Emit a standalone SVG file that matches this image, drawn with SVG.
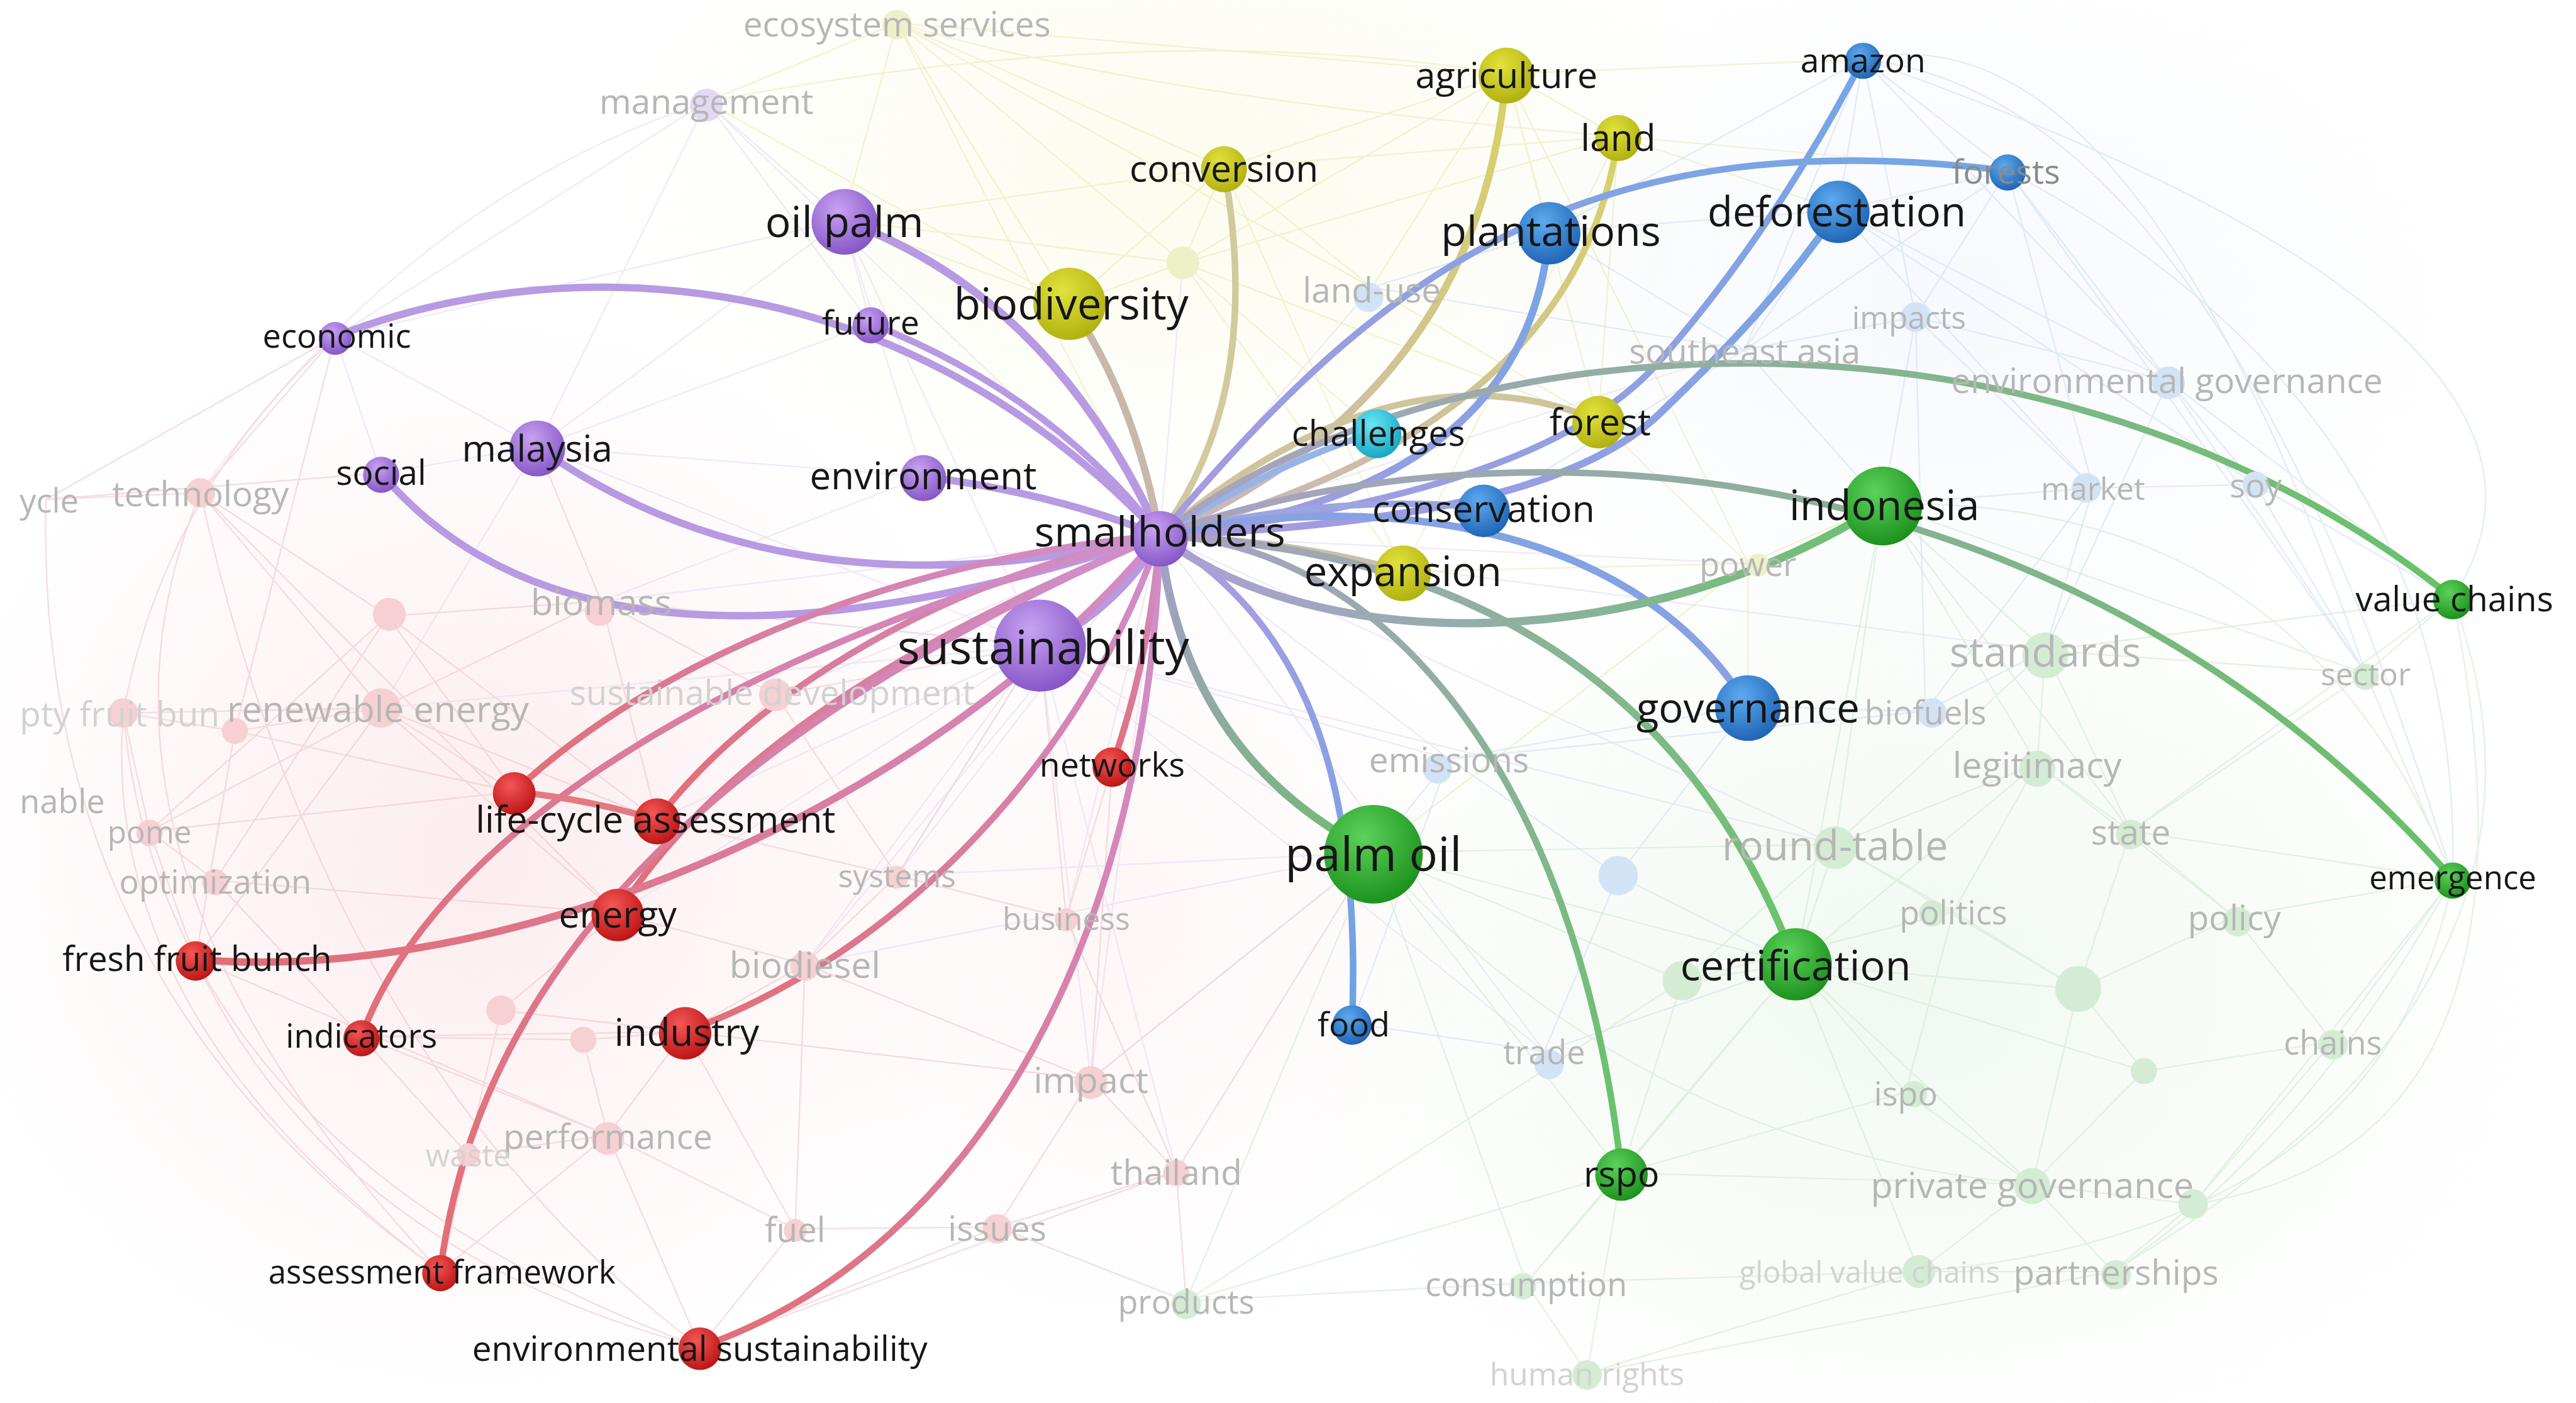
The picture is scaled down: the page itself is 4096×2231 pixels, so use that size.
<svg xmlns="http://www.w3.org/2000/svg" width="4096" height="2231" viewBox="0 0 4096 2231">
<style>
text{font-family:"Open Sans","Noto Sans","DejaVu Sans",sans-serif;text-anchor:middle;dominant-baseline:central}
.lb{fill:#161616}
.fd{fill:#b6b6b6}
.fd2{fill:#d2d2d2}
.fr{fill:#f6d0d3}.fy{fill:#eef0c8}.fb{fill:#d3e3f6}.fg{fill:#d4ecd4}.fp{fill:#e4d9f4}
.mesh{fill:none;stroke-width:0.9;opacity:0.6}
.e{fill:none;stroke-linecap:round}
.pu{stroke:#b79ae2}
.re{stroke:url(#gRed)}
</style>
<defs>
<radialGradient id="gP" cx="0.4" cy="0.32" r="0.7"><stop offset="0" stop-color="#c8a2f2"/><stop offset="1" stop-color="#8555c6"/></radialGradient>
<radialGradient id="gY" cx="0.4" cy="0.32" r="0.7"><stop offset="0" stop-color="#e2e23c"/><stop offset="1" stop-color="#b0b012"/></radialGradient>
<radialGradient id="gB" cx="0.4" cy="0.32" r="0.7"><stop offset="0" stop-color="#5eaaf0"/><stop offset="1" stop-color="#1e64b6"/></radialGradient>
<radialGradient id="gG" cx="0.4" cy="0.32" r="0.7"><stop offset="0" stop-color="#5cd25c"/><stop offset="1" stop-color="#1c901c"/></radialGradient>
<radialGradient id="gR" cx="0.4" cy="0.32" r="0.7"><stop offset="0" stop-color="#f45656"/><stop offset="1" stop-color="#bc1414"/></radialGradient>
<radialGradient id="gC" cx="0.4" cy="0.32" r="0.7"><stop offset="0" stop-color="#6ae6f6"/><stop offset="1" stop-color="#14a6c2"/></radialGradient>
<radialGradient id="tPink"><stop offset="0" stop-color="#fbe8ea" stop-opacity="0.8"/><stop offset="1" stop-color="#fbe8ea" stop-opacity="0"/></radialGradient>
<radialGradient id="tYel"><stop offset="0" stop-color="#fafae6" stop-opacity="0.7"/><stop offset="1" stop-color="#fafae6" stop-opacity="0"/></radialGradient>
<radialGradient id="tBlu"><stop offset="0" stop-color="#f0f5fc" stop-opacity="0.6"/><stop offset="1" stop-color="#f0f5fc" stop-opacity="0"/></radialGradient>
<radialGradient id="tGrn"><stop offset="0" stop-color="#eef7ee" stop-opacity="0.85"/><stop offset="1" stop-color="#eef7ee" stop-opacity="0"/></radialGradient>
<linearGradient id="gRed" x1="0" y1="1" x2="1" y2="0"><stop offset="0" stop-color="#e26e76"/><stop offset="1" stop-color="#cf8fcc"/></linearGradient>
<linearGradient id="gBlu" x1="0" y1="1" x2="1" y2="0"><stop offset="0" stop-color="#aa9ae0"/><stop offset="1" stop-color="#74a6e4"/></linearGradient>
<linearGradient id="gYel" x1="0" y1="1" x2="1" y2="0"><stop offset="0" stop-color="#c8b4c4"/><stop offset="1" stop-color="#d8d266"/></linearGradient>
<linearGradient id="gVC" gradientUnits="userSpaceOnUse" x1="706" y1="326" x2="1493" y2="364"><stop offset="0" stop-color="#aaa2c4"/><stop offset="1" stop-color="#68c268"/></linearGradient>
<linearGradient id="gEm" gradientUnits="userSpaceOnUse" x1="706" y1="326" x2="1493" y2="535"><stop offset="0" stop-color="#aaa2c4"/><stop offset="1" stop-color="#68c068"/></linearGradient>
<linearGradient id="gInd" gradientUnits="userSpaceOnUse" x1="706" y1="326" x2="1146" y2="307"><stop offset="0" stop-color="#ae9fd6"/><stop offset="1" stop-color="#6cc26c"/></linearGradient>
<linearGradient id="gCert" gradientUnits="userSpaceOnUse" x1="706" y1="326" x2="1093" y2="587"><stop offset="0" stop-color="#aaa2c4"/><stop offset="1" stop-color="#6ac46a"/></linearGradient>
<linearGradient id="gRspo" gradientUnits="userSpaceOnUse" x1="706" y1="326" x2="987" y2="714"><stop offset="0" stop-color="#aaa2c4"/><stop offset="1" stop-color="#66c466"/></linearGradient>
<linearGradient id="gPO" gradientUnits="userSpaceOnUse" x1="706" y1="326" x2="836" y2="519"><stop offset="0" stop-color="#a89ecc"/><stop offset="1" stop-color="#70ba70"/></linearGradient>
<linearGradient id="gFood" gradientUnits="userSpaceOnUse" x1="706" y1="326" x2="823" y2="623"><stop offset="0" stop-color="#b09ce2"/><stop offset="1" stop-color="#68a4e2"/></linearGradient>
</defs>
<rect x="0" y="0" width="4096" height="2231" fill="#ffffff"/>
<g transform="scale(2.61224)">
<g id="tints">
<ellipse cx="290" cy="520" rx="330" ry="330" fill="url(#tPink)"/>
<ellipse cx="720" cy="110" rx="360" ry="200" fill="url(#tYel)"/>
<ellipse cx="1180" cy="190" rx="320" ry="220" fill="url(#tBlu)"/>
<ellipse cx="1160" cy="600" rx="400" ry="300" fill="url(#tGrn)"/>
<ellipse cx="680" cy="560" rx="220" ry="250" fill="url(#tPink)" opacity="0.5"/>
</g>
<g id="connectors">
<path class="mesh" stroke="#f2c6ca" d="M122,300 L232,431 M122,300 L376,556 M122,300 L28,304 M122,300 L236,375 M122,300 L204,205 M232,431 L75,434 M232,431 L143,445 M232,431 L400,499 M232,431 L313,482 M232,431 L366,366 M232,431 L91,506 M232,431 L119,584 M232,431 L376,556 M236,375 L91,506 M236,375 L400,499 M236,375 L131,536 M91,506 L131,536 M91,506 L119,584 M91,506 L313,482 M131,536 L376,556 M131,536 L220,631 M119,584 L370,691 M220,631 L370,691 M220,631 L417,628 M370,691 L417,628 M370,691 L268,774 M370,691 L484,748 M370,691 L426,820 M484,748 L426,820 M484,748 L607,747 M484,748 L417,628 M607,747 L664,657 M607,747 L716,713 M607,747 L426,820 M664,657 L716,713 M664,657 L490,587 M664,657 L836,519 M664,657 L417,628 M490,587 L417,628 M490,587 L546,533 M490,587 L376,556 M546,533 L649,559 M546,533 L400,499 M649,559 L677,466 M649,559 L716,713 M472,423 L366,366 M472,423 L633,393 M472,423 L400,499 M366,366 L327,272 M366,366 L633,393 M305,615 L376,556 M305,615 L268,774 M355,633 L417,628 M355,633 L220,631 M28,304 Q20,600 268,774 M75,434 Q100,700 426,820 M122,300 Q30,520 268,774 M143,445 L313,482 M75,434 L143,445 M75,434 L91,506 M236,375 L366,366 M236,375 L313,482 M143,445 L119,584 M366,366 L400,499 M472,423 L546,533 M305,615 L417,628 M355,633 L370,691 M285,703 L370,691 M285,703 L268,774 M285,703 L220,631 M716,713 L836,519 M716,713 L722,792 M607,747 L722,792 M426,820 L716,713 M546,533 L633,393 M649,559 L633,393 M664,657 L677,466 M484,748 L490,587 M143,445 L204,205 M28,304 L204,205 M28,304 L232,288 M204,205 Q100,300 75,434 M122,300 Q200,650 426,820 M119,584 Q200,760 426,820 M75,434 Q60,620 268,774"/>
<path class="mesh" stroke="#ebeabb" d="M546,14 L430,62 M546,14 L651,185 M546,14 L745,102 M546,14 L917,45 M546,14 L720,160 M546,14 L513,134 M720,160 L651,185 M720,160 L745,102 M720,160 L917,45 M720,160 L985,83 M745,102 L917,45 M745,102 L985,83 M745,102 L651,185 M917,45 L985,83 M917,45 L943,141 M917,45 L835,175 M917,45 L1064,343 M985,83 L973,256 M985,83 L1119,128 M1064,343 L854,348 M1064,343 L973,256 M1064,343 L1146,307 M651,185 L430,62 M651,185 L513,134 M546,14 Q700,60 985,83 M430,62 Q700,10 917,45 M720,160 L854,348 M720,160 L838,263 M745,102 L835,175 M546,14 L706,326 M917,45 L973,256 M985,83 L854,348 M513,134 L720,160 M745,102 L513,134 M917,45 L1134,36 M985,83 L1222,104 M835,175 L973,256 M1064,343 L1064,430 M1064,343 L836,519 M720,160 L973,256 M546,14 L835,175 M745,102 L854,348"/>
<path class="mesh" stroke="#d0e0f4" d="M1134,36 L1222,104 M1134,36 L1119,128 M1134,36 L943,141 M1134,36 L1320,232 M1134,36 L1166,193 M1134,36 L1062,213 M1222,104 L1119,128 M1222,104 L1320,232 M1222,104 L1274,297 M1222,104 L1166,193 M1119,128 L1320,232 M1119,128 L1274,297 M1119,128 L1062,213 M1119,128 L1373,295 M1166,193 L1320,232 M1166,193 L1274,297 M1166,193 L1172,433 M1320,232 L1373,295 M1320,232 L1440,410 M1320,232 L1493,364 M1274,297 L1172,433 M1274,297 L1245,396 M1274,297 L1373,295 M1172,433 L1064,430 M1172,433 L882,462 M1172,433 L1245,396 M882,462 L985,533 M882,462 L836,519 M882,462 L1064,430 M940,640 L985,533 M940,640 L823,623 M940,640 L1093,587 M835,175 L943,141 M835,175 L1062,213 M1222,104 Q1500,250 1493,535 M1134,36 Q1600,200 1493,364 M1062,213 L1166,193 M1062,213 L943,141 M1062,213 L1146,307 M1062,213 L903,309 M1166,193 L1146,307 M1274,297 L1146,307 M1373,295 L1493,364 M1373,295 L1440,410 M985,533 L1064,430 M985,533 L1093,587 M823,623 L882,462 M1222,104 L1062,213 M943,141 L1119,128 M1134,36 Q1300,0 1440,410 M1222,104 L1440,410 M1320,232 L1245,396 M1134,36 Q1350,60 1493,535"/>
<path class="mesh" stroke="#d2e9d2" d="M1245,396 L1240,465 M1245,396 L1146,307 M1245,396 L1440,410 M1245,396 L1117,514 M1245,396 L1297,506 M1245,396 L1493,364 M1240,465 L1117,514 M1240,465 L1297,506 M1240,465 L1189,555 M1240,465 L1093,587 M1240,465 L1360,558 M1117,514 L1093,587 M1117,514 L1189,555 M1117,514 L1146,307 M1117,514 L836,519 M1117,514 L1265,602 M1297,506 L1360,558 M1297,506 L1493,535 M1297,506 L1440,410 M1189,555 L1265,602 M1189,555 L1160,665 M1360,558 L1420,634 M1360,558 L1493,535 M1360,558 L1265,602 M1265,602 L1305,652 M1265,602 L1237,721 M1265,602 L1093,587 M1420,634 L1335,733 M1420,634 L1493,535 M1420,634 L1305,652 M1160,665 L1237,721 M1160,665 L1093,587 M1160,665 L987,714 M1237,721 L1286,774 M1237,721 L1335,733 M1237,721 L1168,774 M1237,721 L987,714 M1286,774 L1335,733 M1286,774 L1168,774 M929,781 L987,714 M929,781 L966,836 M929,781 L722,792 M929,781 L1168,774 M966,836 L987,714 M966,836 L1168,774 M722,792 L836,519 M722,792 L987,714 M836,519 L1093,587 M836,519 L987,714 M836,519 L929,781 M1440,410 L1493,364 M1440,410 L1493,535 M1493,364 Q1580,600 1286,774 M1493,535 Q1450,750 1168,774 M1024,597 L1093,587 M1024,597 L987,714 M1024,597 L1117,514 M1024,597 L836,519 M1146,307 L1297,506 M1146,307 L1093,587 M1146,307 L1240,465 M1093,587 L987,714 M1093,587 L1237,721 M1093,587 L1305,652 M1305,652 L1237,721 M1335,733 L1493,535 M1146,307 L1440,410 M1286,774 Q1400,700 1493,535 M1168,774 L1093,587 M966,836 L1286,774 M1189,555 L1024,597 M1297,506 L1265,602 M836,519 Q1000,700 1237,721 M1493,364 L1297,506 M1146,307 Q1400,300 1493,535 M1493,364 Q1560,700 1335,733 M722,792 L1024,597 M929,781 L1093,587"/>
<path class="mesh" stroke="#e6dcf1" d="M706,326 L366,366 M706,326 L472,423 M706,326 L546,533 M706,326 L649,559 M706,326 L490,587 M706,326 L664,657 M706,326 L882,462 M706,326 L1064,343 M706,326 L835,175 M706,326 L720,160 M706,326 L430,62 M706,326 L1062,213 M706,326 L1117,514 M706,326 L1245,396 M633,393 L366,366 M633,393 L546,533 M633,393 L490,587 M633,393 L664,657 M633,393 L232,431 M633,393 L882,462 M633,393 L1117,514 M633,393 L836,519 M633,393 L400,499 M633,393 L376,556 M633,393 L513,134 M633,393 L327,272 M513,134 L430,62 M513,134 L327,272 M513,134 L204,205 M430,62 L204,205 M430,62 L327,272 M327,272 L232,288 M327,272 L204,205 M327,272 L232,431 M232,288 L204,205 M562,290 L327,272 M562,290 L513,134 M530,197 L513,134 M530,197 L430,62 M530,197 L327,272 M836,519 L664,657 M836,519 L490,587 M836,519 L546,533 M633,393 L716,713 M633,393 L940,640 M706,326 L940,640 M562,290 L366,366 M430,62 Q250,120 122,300"/>
<g id="edges">
<path class="e pu" stroke-width="5" d="M513,134 Q640,180 706,326"/>
<path class="e pu" stroke-width="4.5" d="M204,205 C330,155 540,150 706,326"/>
<path class="e pu" stroke-width="4" d="M530,197 Q640,240 706,326"/>
<path class="e pu" stroke-width="4.5" d="M327,272 Q480,380 706,326"/>
<path class="e pu" stroke-width="4.5" d="M232,288 Q360,440 706,326"/>
<path class="e pu" stroke-width="4.5" d="M562,290 Q640,300 706,326"/>
<path class="e pu" stroke-width="6" d="M633,393 Q680,370 706,326"/>
<path class="e re" stroke-width="4" d="M313,482 C400,400 550,340 706,326"/>
<path class="e re" stroke-width="4" d="M400,499 C460,420 580,350 706,326"/>
<path class="e re" stroke-width="4" d="M376,556 C450,440 600,370 706,326"/>
<path class="e re" stroke-width="4.5" d="M119,584 C300,600 560,500 706,326"/>
<path class="e re" stroke-width="4" d="M220,631 C260,520 420,400 706,326"/>
<path class="e re" stroke-width="4" d="M417,628 C550,580 660,460 706,326"/>
<path class="e re" stroke-width="4" d="M268,774 C290,600 420,450 706,326"/>
<path class="e re" stroke-width="4" d="M426,820 C600,760 700,560 706,326"/>
<path class="e re" stroke-width="4" d="M677,466 Q700,400 706,326"/>
<path class="e" stroke="#e27a82" stroke-width="4" d="M313,482 Q356,486 400,499"/>
<path class="e" stroke="#c8b8ac" stroke-width="4.5" d="M651,185 Q690,240 706,326"/>
<path class="e" stroke="#d0ca9c" stroke-width="4" d="M745,102 Q770,240 706,326"/>
<path class="e" stroke="url(#gYel)" stroke-width="4.5" d="M917,45 Q900,240 706,326"/>
<path class="e" stroke="url(#gYel)" stroke-width="4" d="M985,83 Q960,260 706,326"/>
<path class="e" stroke="#cfc59c" stroke-width="4" d="M706,326 Q850,205 973,256"/>
<path class="e" stroke="#c9bfa8" stroke-width="4.5" d="M706,326 Q790,330 854,348"/>
<path class="e" stroke="url(#gBlu)" stroke-width="4.5" d="M943,141 Q930,300 706,326"/>
<path class="e" stroke="url(#gBlu)" stroke-width="4" d="M706,326 C830,180 950,70 1222,104"/>
<path class="e" stroke="url(#gBlu)" stroke-width="4" d="M706,326 Q940,300 1010,220 T1134,36"/>
<path class="e" stroke="url(#gBlu)" stroke-width="4.5" d="M706,326 C850,320 960,300 1010,252 S1090,170 1119,128"/>
<path class="e" stroke="#96b4e8" stroke-width="4" d="M706,326 Q780,280 838,263"/>
<path class="e" stroke="#9ca4e2" stroke-width="4" d="M706,326 Q810,300 903,309"/>
<path class="e" stroke="url(#gBlu)" stroke-width="4.5" d="M706,326 C820,300 990,310 1064,430"/>
<path class="e" stroke="url(#gFood)" stroke-width="4" d="M706,326 C780,370 830,450 823,623"/>
<path class="e" stroke="url(#gPO)" stroke-width="5" d="M706,326 Q720,460 836,519"/>
<path class="e" stroke="url(#gInd)" stroke-width="5" d="M706,326 C800,400 1000,400 1146,307"/>
<path class="e" stroke="url(#gEm)" stroke-width="4" d="M706,326 C900,255 1250,260 1493,535"/>
<path class="e" stroke="url(#gVC)" stroke-width="4" d="M706,326 C880,190 1250,170 1493,364"/>
<path class="e" stroke="url(#gCert)" stroke-width="4.5" d="M706,326 Q1000,340 1093,587"/>
<path class="e" stroke="url(#gRspo)" stroke-width="4" d="M706,326 C840,330 960,470 987,714"/>
</g>
</g>
<g id="faded-nodes">
<g id="n-management"><circle class="fp" cx="430" cy="64" r="10"/><text class="fd" x="430" y="61" font-size="21">management</text></g>
<g id="n-ecosystem-services"><circle class="fy" cx="546" cy="15" r="9"/><text class="fd" x="546" y="14" font-size="21">ecosystem services</text></g>
<g id="n-y1"><circle class="fy" cx="720" cy="160" r="10"/></g>
<g id="n-power"><circle class="fy" cx="1070" cy="344" r="7"/><text class="fd" x="1064" y="343" font-size="20">power</text></g>
<g id="n-land-use"><circle class="fb" cx="833" cy="181" r="9"/><text class="fd" x="835" y="176" font-size="21">land-use</text></g>
<g id="n-southeast-asia"><text class="fd" x="1062" y="213" font-size="21">southeast asia</text></g>
<g id="n-impacts"><circle class="fb" cx="1166" cy="193" r="9"/><text class="fd" x="1162" y="193" font-size="19">impacts</text></g>
<g id="n-environmental-governance"><circle class="fb" cx="1320" cy="233" r="10"/><text class="fd" x="1319" y="231" font-size="21">environmental governance</text></g>
<g id="n-market"><circle class="fb" cx="1270" cy="297" r="9"/><text class="fd" x="1274" y="297" font-size="19">market</text></g>
<g id="n-soy"><circle class="fb" cx="1373" cy="295" r="8"/><text class="fd" x="1373" y="295" font-size="20">soy</text></g>
<g id="n-biofuels"><circle class="fb" cx="1176" cy="434" r="9"/><text class="fd" x="1172" y="433" font-size="20">biofuels</text></g>
<g id="n-emissions"><circle class="fb" cx="875" cy="468" r="9"/><text class="fd" x="882" y="462" font-size="21">emissions</text></g>
<g id="n-trade"><circle class="fb" cx="943" cy="648" r="9"/><text class="fd" x="940" y="640" font-size="20">trade</text></g>
<g id="n-b1"><circle class="fb" cx="985" cy="533" r="12"/></g>
<g id="n-standards"><circle class="fg" cx="1245" cy="399" r="14"/><text class="fd" x="1245" y="396" font-size="25">standards</text></g>
<g id="n-sector"><circle class="fg" cx="1440" cy="412" r="8"/><text class="fd" x="1440" y="410" font-size="19">sector</text></g>
<g id="n-legitimacy"><circle class="fg" cx="1240" cy="468" r="11"/><text class="fd" x="1240" y="465" font-size="22">legitimacy</text></g>
<g id="n-round-table"><circle class="fg" cx="1117" cy="516" r="13"/><text class="fd" x="1117" y="514" font-size="25">round-table</text></g>
<g id="n-state"><circle class="fg" cx="1297" cy="508" r="9"/><text class="fd" x="1297" y="506" font-size="21">state</text></g>
<g id="n-politics"><circle class="fg" cx="1176" cy="556" r="8"/><text class="fd" x="1189" y="555" font-size="20">politics</text></g>
<g id="n-policy"><circle class="fg" cx="1362" cy="561" r="9"/><text class="fd" x="1360" y="558" font-size="21">policy</text></g>
<g id="n-g1"><circle class="fg" cx="1265" cy="602" r="14"/></g>
<g id="n-g2"><circle class="fg" cx="1305" cy="652" r="8"/></g>
<g id="n-g3"><circle class="fg" cx="1335" cy="733" r="9"/></g>
<g id="n-g4"><circle class="fg" cx="1024" cy="597" r="12"/></g>
<g id="n-chains"><circle class="fg" cx="1420" cy="636" r="9"/><text class="fd" x="1420" y="634" font-size="20">chains</text></g>
<g id="n-ispo"><circle class="fg" cx="1165" cy="666" r="8"/><text class="fd" x="1160" y="665" font-size="20">ispo</text></g>
<g id="n-private-governance"><circle class="fg" cx="1237" cy="722" r="11"/><text class="fd" x="1237" y="721" font-size="22">private governance</text></g>
<g id="n-global-value-chains"><circle class="fg" cx="1168" cy="774" r="10"/><text class="fd2" x="1138" y="774" font-size="18">global value chains</text></g>
<g id="n-partnerships"><circle class="fg" cx="1288" cy="776" r="9"/><text class="fd" x="1288" y="774" font-size="21">partnerships</text></g>
<g id="n-consumption"><circle class="fg" cx="927" cy="783" r="8"/><text class="fd" x="929" y="781" font-size="20">consumption</text></g>
<g id="n-human-rights"><circle class="fg" cx="966" cy="837" r="9"/><text class="fd2" x="966" y="836" font-size="19">human rights</text></g>
<g id="n-products"><circle class="fg" cx="722" cy="794" r="9"/><text class="fd" x="722" y="792" font-size="20">products</text></g>
<g id="n-technology"><circle class="fr" cx="122" cy="300" r="9"/><text class="fd" x="122" y="300" font-size="21">technology</text></g>
<g id="n-ycle"><text class="fd" x="12" y="304" font-size="20" style="text-anchor:start">ycle</text></g>
<g id="n-r1"><circle class="fr" cx="75" cy="434" r="9"/><circle class="fr" cx="143" cy="445" r="8"/><text class="fd2" x="12" y="434" font-size="21" style="text-anchor:start">pty fruit bun</text></g>
<g id="n-biomass"><circle class="fr" cx="237" cy="374" r="10"/><circle class="fr" cx="365" cy="372" r="9"/><text class="fd" x="366" y="366" font-size="22">biomass</text></g>
<g id="n-renewable-energy"><circle class="fr" cx="232" cy="431" r="12"/><text class="fd" x="230" y="431" font-size="22">renewable energy</text></g>
<g id="n-sustainable-development"><circle class="fr" cx="472" cy="423" r="10"/><text class="fd2" x="470" y="421" font-size="21">sustainable development</text></g>
<g id="n-nable"><text class="fd" x="12" y="487" font-size="20" style="text-anchor:start">nable</text></g>
<g id="n-pome"><circle class="fr" cx="91" cy="507" r="8"/><text class="fd" x="91" y="506" font-size="19">pome</text></g>
<g id="n-optimization"><circle class="fr" cx="131" cy="537" r="8"/><text class="fd" x="131" y="536" font-size="20">optimization</text></g>
<g id="n-r2"><circle class="fr" cx="305" cy="615" r="9"/><circle class="fr" cx="355" cy="633" r="8"/></g>
<g id="n-performance"><circle class="fr" cx="370" cy="693" r="10"/><text class="fd" x="370" y="691" font-size="21">performance</text></g>
<g id="n-waste"><circle class="fr" cx="285" cy="703" r="7"/><text class="fd2" x="285" y="703" font-size="19">waste</text></g>
<g id="n-fuel"><circle class="fr" cx="484" cy="749" r="7"/><text class="fd" x="484" y="748" font-size="21">fuel</text></g>
<g id="n-issues"><circle class="fr" cx="607" cy="748" r="9"/><text class="fd" x="607" y="747" font-size="21">issues</text></g>
<g id="n-impact"><circle class="fr" cx="664" cy="659" r="10"/><text class="fd" x="664" y="657" font-size="22">impact</text></g>
<g id="n-thailand"><circle class="fr" cx="716" cy="714" r="8"/><text class="fd" x="716" y="713" font-size="21">thailand</text></g>
<g id="n-systems"><circle class="fr" cx="546" cy="534" r="7"/><text class="fd" x="546" y="533" font-size="19">systems</text></g>
<g id="n-business"><circle class="fr" cx="649" cy="560" r="7"/><text class="fd" x="649" y="559" font-size="19">business</text></g>
<g id="n-biodiesel"><circle class="fr" cx="490" cy="588" r="9"/><text class="fd" x="490" y="587" font-size="22">biodiesel</text></g>
</g>
<g id="nodes">
<g id="n-economic"><circle cx="204" cy="206" r="10" fill="url(#gP)"/><text class="lb" x="205" y="204" font-size="20">economic</text></g>
<g id="n-social"><circle cx="232" cy="289" r="11" fill="url(#gP)"/><text class="lb" x="232" y="287" font-size="21">social</text></g>
<g id="n-malaysia"><circle cx="327" cy="273" r="17" fill="url(#gP)"/><text class="lb" x="327" y="272" font-size="22.5">malaysia</text></g>
<g id="n-oil-palm"><circle cx="514" cy="135" r="20" fill="url(#gP)"/><text class="lb" x="514" y="134" font-size="26">oil palm</text></g>
<g id="n-future"><circle cx="530" cy="198" r="11" fill="url(#gP)"/><text class="lb" x="530" y="196" font-size="20.5">future</text></g>
<g id="n-environment"><circle cx="562" cy="291" r="14" fill="url(#gP)"/><text class="lb" x="562" y="289" font-size="23">environment</text></g>
<g id="n-sustainability"><circle cx="633" cy="393" r="28" fill="url(#gP)"/><text class="lb" x="635" y="393" font-size="29">sustainability</text></g>
<g id="n-smallholders"><circle cx="706" cy="328" r="17" fill="url(#gP)"/><text class="lb" x="706" y="323" font-size="25.5">smallholders</text></g>
<g id="n-biodiversity"><circle cx="651" cy="185" r="22" fill="url(#gY)"/><text class="lb" x="652" y="184" font-size="26.5">biodiversity</text></g>
<g id="n-conversion"><circle cx="745" cy="103" r="14" fill="url(#gY)"/><text class="lb" x="745" y="102" font-size="22.5">conversion</text></g>
<g id="n-agriculture"><circle cx="917" cy="46" r="17" fill="url(#gY)"/><text class="lb" x="917" y="45" font-size="22">agriculture</text></g>
<g id="n-land"><circle cx="985" cy="84" r="14" fill="url(#gY)"/><text class="lb" x="985" y="83" font-size="22.5">land</text></g>
<g id="n-forest"><circle cx="973" cy="257" r="16" fill="url(#gY)"/><text class="lb" x="974" y="256" font-size="22.5">forest</text></g>
<g id="n-expansion"><circle cx="854" cy="349" r="17" fill="url(#gY)"/><text class="lb" x="854" y="347" font-size="25">expansion</text></g>
<g id="n-plantations"><circle cx="943" cy="142" r="19" fill="url(#gB)"/><text class="lb" x="944" y="140" font-size="25.5">plantations</text></g>
<g id="n-deforestation"><circle cx="1119" cy="129" r="19" fill="url(#gB)"/><text class="lb" x="1118" y="128" font-size="25">deforestation</text></g>
<g id="n-amazon"><circle cx="1134" cy="37" r="11" fill="url(#gB)"/><text class="lb" x="1134" y="36" font-size="20.5">amazon</text></g>
<g id="n-forests"><circle cx="1222" cy="105" r="11" fill="url(#gB)"/><text x="1221" y="104" font-size="20.5" fill="#8a8a8a">forests</text></g>
<g id="n-challenges"><circle cx="838" cy="264" r="15" fill="url(#gC)"/><text class="lb" x="839" y="263" font-size="21.5">challenges</text></g>
<g id="n-conservation"><circle cx="903" cy="311" r="16" fill="url(#gB)"/><text class="lb" x="903" y="309" font-size="22.5">conservation</text></g>
<g id="n-governance"><circle cx="1064" cy="431" r="20" fill="url(#gB)"/><text class="lb" x="1064" y="430" font-size="25">governance</text></g>
<g id="n-food"><circle cx="823" cy="624" r="12" fill="url(#gB)"/><text class="lb" x="824" y="623" font-size="20.5">food</text></g>
<g id="n-indonesia"><circle cx="1146" cy="308" r="24" fill="url(#gG)"/><text class="lb" x="1147" y="307" font-size="25.5">indonesia</text></g>
<g id="n-palm-oil"><circle cx="836" cy="520" r="30" fill="url(#gG)"/><text class="lb" x="836" y="519" font-size="29">palm oil</text></g>
<g id="n-certification"><circle cx="1093" cy="587" r="22" fill="url(#gG)"/><text class="lb" x="1093" y="587" font-size="25.5">certification</text></g>
<g id="n-rspo"><circle cx="987" cy="715" r="16" fill="url(#gG)"/><text class="lb" x="987" y="714" font-size="22">rspo</text></g>
<g id="n-value-chains"><circle cx="1493" cy="365" r="12" fill="url(#gG)"/><text class="lb" x="1494" y="364" font-size="21">value chains</text></g>
<g id="n-emergence"><circle cx="1493" cy="536" r="11" fill="url(#gG)"/><text class="lb" x="1493" y="534" font-size="19.5">emergence</text></g>
<g id="n-networks"><circle cx="677" cy="467" r="12" fill="url(#gR)"/><text class="lb" x="677" y="465" font-size="20.5">networks</text></g>
<g id="n-life-cycle"><circle cx="313" cy="483" r="13" fill="url(#gR)"/></g>
<g id="n-life-cycle-assessment"><circle cx="400" cy="500" r="14" fill="url(#gR)"/><text class="lb" x="399" y="498" font-size="22.5">life-cycle assessment</text></g>
<g id="n-energy"><circle cx="376" cy="557" r="16" fill="url(#gR)"/><text class="lb" x="376" y="556" font-size="22.5">energy</text></g>
<g id="n-fresh-fruit-bunch"><circle cx="119" cy="585" r="12" fill="url(#gR)"/><text class="lb" x="120" y="583" font-size="21">fresh fruit bunch</text></g>
<g id="n-indicators"><circle cx="220" cy="632" r="11" fill="url(#gR)"/><text class="lb" x="220" y="630" font-size="20">indicators</text></g>
<g id="n-industry"><circle cx="417" cy="629" r="16" fill="url(#gR)"/><text class="lb" x="418" y="628" font-size="23">industry</text></g>
<g id="n-assessment-framework"><circle cx="268" cy="775" r="11" fill="url(#gR)"/><text class="lb" x="269" y="774" font-size="19.5">assessment framework</text></g>
<g id="n-environmental-sustainability"><circle cx="426" cy="821" r="13" fill="url(#gR)"/><text class="lb" x="426" y="820" font-size="21">environmental sustainability</text></g>
</g>
</g>
</svg>
